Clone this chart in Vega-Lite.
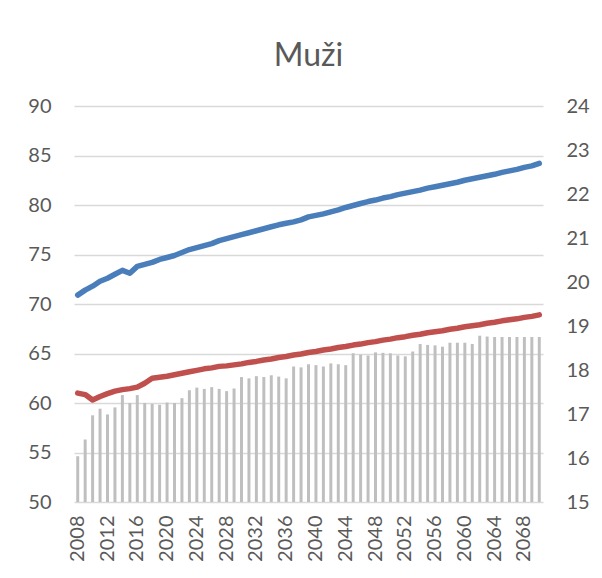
{
  "$schema": "https://vega.github.io/schema/vega-lite/v6.json",
  "width": 469,
  "height": 396,
  "autosize": "none",
  "padding": {"left": 74, "top": 106, "right": 59, "bottom": 76},
  "background": "white",
  "config": {"font": "Lato", "view": {"stroke": null}},
  "title": {"text": "Muži", "fontSize": 32, "font": "Lato", "fontWeight": "normal", "color": "#595959", "offset": -2, "baseline": "alphabetic", "anchor": "middle"},
  "data": {"values": [
    {"year": 2008, "blue": 70.9, "red": 61.0, "bar": 16.04},
    {"year": 2009, "blue": 71.4, "red": 60.85, "bar": 16.42},
    {"year": 2010, "blue": 71.8, "red": 60.3, "bar": 16.97},
    {"year": 2011, "blue": 72.3, "red": 60.65, "bar": 17.12},
    {"year": 2012, "blue": 72.6, "red": 60.95, "bar": 16.99},
    {"year": 2013, "blue": 73.0, "red": 61.2, "bar": 17.15},
    {"year": 2014, "blue": 73.4, "red": 61.35, "bar": 17.43},
    {"year": 2015, "blue": 73.1, "red": 61.45, "bar": 17.25},
    {"year": 2016, "blue": 73.8, "red": 61.6, "bar": 17.43},
    {"year": 2017, "blue": 74.0, "red": 62.0, "bar": 17.25},
    {"year": 2018, "blue": 74.2, "red": 62.5, "bar": 17.23},
    {"year": 2019, "blue": 74.5, "red": 62.6, "bar": 17.21},
    {"year": 2020, "blue": 74.7, "red": 62.7, "bar": 17.26},
    {"year": 2021, "blue": 74.9, "red": 62.85, "bar": 17.25},
    {"year": 2022, "blue": 75.2, "red": 63.0, "bar": 17.36},
    {"year": 2023, "blue": 75.5, "red": 63.15, "bar": 17.54},
    {"year": 2024, "blue": 75.7, "red": 63.3, "bar": 17.6},
    {"year": 2025, "blue": 75.9, "red": 63.45, "bar": 17.57},
    {"year": 2026, "blue": 76.1, "red": 63.55, "bar": 17.61},
    {"year": 2027, "blue": 76.4, "red": 63.7, "bar": 17.57},
    {"year": 2028, "blue": 76.6, "red": 63.75, "bar": 17.52},
    {"year": 2029, "blue": 76.8, "red": 63.85, "bar": 17.58},
    {"year": 2030, "blue": 77.0, "red": 63.95, "bar": 17.84},
    {"year": 2031, "blue": 77.2, "red": 64.1, "bar": 17.81},
    {"year": 2032, "blue": 77.4, "red": 64.2, "bar": 17.86},
    {"year": 2033, "blue": 77.6, "red": 64.35, "bar": 17.84},
    {"year": 2034, "blue": 77.8, "red": 64.45, "bar": 17.88},
    {"year": 2035, "blue": 78.0, "red": 64.6, "bar": 17.85},
    {"year": 2036, "blue": 78.15, "red": 64.7, "bar": 17.81},
    {"year": 2037, "blue": 78.3, "red": 64.85, "bar": 18.08},
    {"year": 2038, "blue": 78.5, "red": 64.95, "bar": 18.06},
    {"year": 2039, "blue": 78.8, "red": 65.1, "bar": 18.13},
    {"year": 2040, "blue": 78.95, "red": 65.2, "bar": 18.11},
    {"year": 2041, "blue": 79.1, "red": 65.35, "bar": 18.08},
    {"year": 2042, "blue": 79.3, "red": 65.45, "bar": 18.15},
    {"year": 2043, "blue": 79.5, "red": 65.6, "bar": 18.13},
    {"year": 2044, "blue": 79.75, "red": 65.7, "bar": 18.11},
    {"year": 2045, "blue": 79.95, "red": 65.85, "bar": 18.38},
    {"year": 2046, "blue": 80.15, "red": 65.95, "bar": 18.35},
    {"year": 2047, "blue": 80.35, "red": 66.1, "bar": 18.33},
    {"year": 2048, "blue": 80.5, "red": 66.2, "bar": 18.4},
    {"year": 2049, "blue": 80.7, "red": 66.35, "bar": 18.39},
    {"year": 2050, "blue": 80.85, "red": 66.45, "bar": 18.38},
    {"year": 2051, "blue": 81.05, "red": 66.6, "bar": 18.33},
    {"year": 2052, "blue": 81.2, "red": 66.7, "bar": 18.31},
    {"year": 2053, "blue": 81.35, "red": 66.85, "bar": 18.42},
    {"year": 2054, "blue": 81.5, "red": 66.95, "bar": 18.59},
    {"year": 2055, "blue": 81.7, "red": 67.1, "bar": 18.57},
    {"year": 2056, "blue": 81.85, "red": 67.2, "bar": 18.56},
    {"year": 2057, "blue": 82.0, "red": 67.3, "bar": 18.53},
    {"year": 2058, "blue": 82.15, "red": 67.45, "bar": 18.62},
    {"year": 2059, "blue": 82.3, "red": 67.55, "bar": 18.62},
    {"year": 2060, "blue": 82.5, "red": 67.7, "bar": 18.62},
    {"year": 2061, "blue": 82.65, "red": 67.8, "bar": 18.59},
    {"year": 2062, "blue": 82.8, "red": 67.9, "bar": 18.78},
    {"year": 2063, "blue": 82.95, "red": 68.05, "bar": 18.76},
    {"year": 2064, "blue": 83.1, "red": 68.15, "bar": 18.75},
    {"year": 2065, "blue": 83.3, "red": 68.3, "bar": 18.75},
    {"year": 2066, "blue": 83.45, "red": 68.4, "bar": 18.75},
    {"year": 2067, "blue": 83.6, "red": 68.5, "bar": 18.75},
    {"year": 2068, "blue": 83.8, "red": 68.65, "bar": 18.75},
    {"year": 2069, "blue": 83.95, "red": 68.75, "bar": 18.75},
    {"year": 2070, "blue": 84.2, "red": 68.9, "bar": 18.75}
  ]},
  "encoding": {
    "x": {
      "field": "year", "type": "ordinal",
      "scale": {"paddingInner": 0, "paddingOuter": 0},
      "axis": {
        "title": null, "values": [2008, 2012, 2016, 2020, 2024, 2028, 2032, 2036, 2040, 2044, 2048, 2052, 2056, 2060, 2064, 2068],
        "labelAngle": 270, "labelAlign": "right", "labelBaseline": "middle",
        "labelFontSize": 20, "labelColor": "#595959", "labelPadding": 13,
        "domain": false, "ticks": false, "grid": false
      }
    }
  },
  "layer": [
    {
      "mark": {"type": "bar", "color": "#bfbfbf", "width": {"band": 0.4}},
      "encoding": {
        "y": {
          "field": "bar", "type": "quantitative",
          "scale": {"domain": [15, 24], "nice": false, "zero": false},
          "axis": {"orient": "right", "title": null, "values": [15, 16, 17, 18, 19, 20, 21, 22, 23, 24],
            "grid": false, "domain": false, "ticks": false, "labelPadding": 23,
            "labelFontSize": 20, "labelColor": "#595959"}
        },
        "y2": {"datum": 15}
      }
    },
    {
      "layer": [
        {
          "mark": {"type": "line", "color": "#4a7ebb", "strokeWidth": 5.5, "strokeCap": "round", "strokeJoin": "round"},
          "encoding": {
            "y": {
              "field": "blue", "type": "quantitative",
              "scale": {"domain": [50, 90], "nice": false, "zero": false},
              "axis": {"orient": "left", "title": null, "values": [50, 55, 60, 65, 70, 75, 80, 85, 90],
                "grid": true, "gridColor": "#d9d9d9", "gridWidth": 1.4, "domain": false, "ticks": false,
                "labelPadding": 23, "labelFontSize": 20, "labelColor": "#595959"}
            }
          }
        },
        {
          "mark": {"type": "line", "color": "#c0504d", "strokeWidth": 5.5, "strokeCap": "round", "strokeJoin": "round"},
          "encoding": {
            "y": {"field": "red", "type": "quantitative"}
          }
        }
      ]
    }
  ],
  "resolve": {"scale": {"y": "independent"}}
}
